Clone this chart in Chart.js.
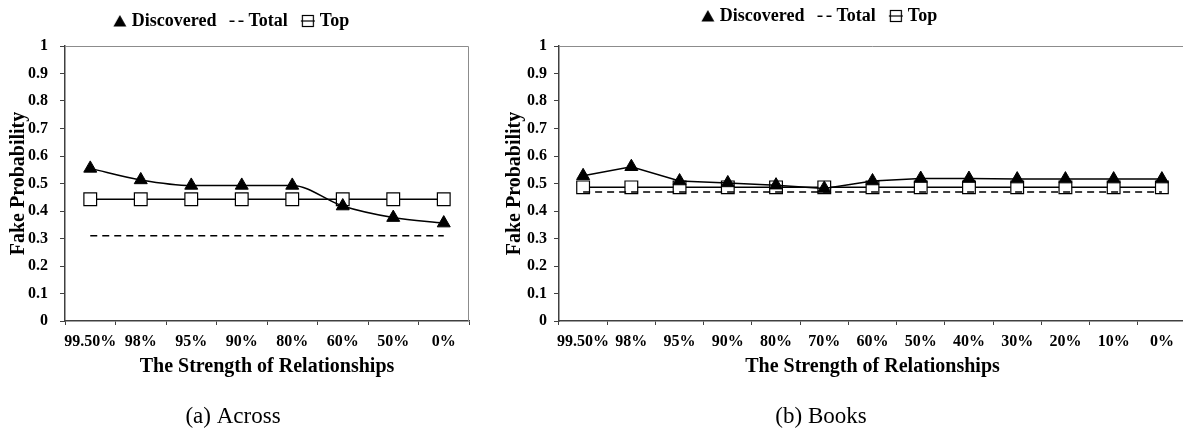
<!DOCTYPE html>
<html>
<head>
<meta charset="utf-8">
<title>Fake Probability vs. Strength of Relationships</title>
<script src="https://cdn.jsdelivr.net/npm/chart.js"></script>
<style>
  body { margin: 0; width: 1183px; height: 431px; overflow: hidden; background: #fff; position: relative; }
  .panel { position: absolute; top: 0; }
  #across-panel { left: -3px; }
  #books-panel { left: 456px; }
</style>
</head>
<body>
<div class="panel" id="across-panel"><canvas id="acrossChart" width="473" height="431"></canvas></div>
<div class="panel" id="books-panel"><canvas id="booksChart" width="731" height="431"></canvas></div>
<script>
// --- Data ---
const acrossLabels = ['99.50%', '98%', '95%', '90%', '80%', '60%', '50%', '0%'];
const acrossDiscovered = [0.555, 0.513, 0.493, 0.493, 0.493, 0.418, 0.376, 0.356];
const acrossTotal = [0.31, 0.31, 0.31, 0.31, 0.31, 0.31, 0.31, 0.31];
const acrossTop = [0.443, 0.443, 0.443, 0.443, 0.443, 0.443, 0.443, 0.443];

const booksLabels = ['99.50%', '98%', '95%', '90%', '80%', '70%', '60%', '50%', '40%', '30%', '20%', '10%', '0%'];
const booksDiscovered = [0.528, 0.561, 0.509, 0.502, 0.494, 0.482, 0.509, 0.518, 0.518, 0.516, 0.516, 0.516, 0.516];
const booksTotal = [0.469, 0.469, 0.469, 0.469, 0.469, 0.469, 0.469, 0.469, 0.469, 0.469, 0.469, 0.469, 0.469];
const booksTop = [0.486, 0.486, 0.486, 0.486, 0.486, 0.486, 0.486, 0.486, 0.486, 0.486, 0.486, 0.486, 0.486];

const yTickLabels = ['0', '0.1', '0.2', '0.3', '0.4', '0.5', '0.6', '0.7', '0.8', '0.9', '1'];

// --- Styles ---
const SERIF = '"Liberation Serif", "Times New Roman", serif';
const AXIS = '#404040';
const FRAME = '#8c8c8c';

// Small canvases used as legend symbols
function makeIcon(kind) {
    const c = document.createElement('canvas');
    c.width = 16;
    c.height = 14;
    const g = c.getContext('2d');
    g.fillStyle = '#000';
    g.strokeStyle = '#000';
    g.lineWidth = 1.2;
    if (kind === 'triangle') {
        g.beginPath();
        g.moveTo(8, 1);
        g.lineTo(14.5, 12.5);
        g.lineTo(1.5, 12.5);
        g.closePath();
        g.fill();
    } else if (kind === 'dash') {
        g.fillRect(1, 6.5, 5, 1.5);
        g.fillRect(10, 6.5, 5, 1.5);
    } else {
        g.strokeRect(2.5, 1.5, 11, 11);
        g.beginPath();
        g.moveTo(1, 7);
        g.lineTo(15, 7);
        g.stroke();
    }
    return c;
}

const legendIcons = {
    Discovered: makeIcon('triangle'),
    Total: makeIcon('dash'),
    Top: makeIcon('square')
};

// Fixed legend height so the plot top lands where we want it
const legendHeight = h => ({
    id: 'legendHeight',
    beforeInit(chart) {
        const fit = chart.legend.fit;
        chart.legend.fit = function () {
            fit.call(this);
            this.height = h;
        };
    }
});

// Thin grey border on the top and right of the plot area
const plotFrame = {
    id: 'plotFrame',
    beforeDatasetsDraw(chart) {
        const { ctx, chartArea: a } = chart;
        ctx.save();
        ctx.strokeStyle = FRAME;
        ctx.lineWidth = 1;
        ctx.beginPath();
        ctx.moveTo(a.left, a.top + 0.5);
        ctx.lineTo(a.right - 0.5, a.top + 0.5);
        ctx.lineTo(a.right - 0.5, a.bottom);
        ctx.stroke();
        ctx.restore();
    }
};

function buildChart(id, labels, discovered, total, top, geo) {
    return new Chart(document.getElementById(id), {
        type: 'line',
        data: {
            labels: labels,
            datasets: [
                {
                    label: 'Discovered',
                    data: discovered,
                    borderColor: '#000',
                    borderWidth: 1.5,
                    cubicInterpolationMode: geo.smooth ? 'monotone' : 'default',
                    tension: 0,
                    pointStyle: 'triangle',
                    pointRadius: 7.5,
                    pointBackgroundColor: '#000',
                    pointBorderColor: '#000',
                    pointBorderWidth: 1
                },
                {
                    label: 'Total',
                    data: total,
                    borderColor: '#000',
                    borderWidth: 1.5,
                    borderDash: [7, 5],
                    pointRadius: 0
                },
                {
                    label: 'Top',
                    data: top,
                    borderColor: '#000',
                    borderWidth: 1.5,
                    pointStyle: 'rect',
                    pointRadius: 9,
                    pointBackgroundColor: '#fff',
                    pointBorderColor: '#000',
                    pointBorderWidth: 1.2
                }
            ]
        },
        options: {
            responsive: false,
            animation: false,
            events: [],
            layout: {
                autoPadding: false,
                padding: { top: geo.padTop, left: 0, right: geo.padRight, bottom: 0 }
            },
            scales: {
                x: {
                    offset: true,
                    grid: { display: true, offset: true, drawOnChartArea: false, tickLength: 4, color: AXIS, tickColor: AXIS },
                    border: { display: true, color: AXIS, width: 1.5 },
                    ticks: {
                        autoSkip: false, maxRotation: 0, minRotation: 0, padding: 7, color: '#000',
                        font: { family: SERIF, size: 16, weight: 'bold' }
                    },
                    title: {
                        display: true, text: 'The Strength of Relationships', color: '#000',
                        font: { family: SERIF, size: 20, weight: 'bold' },
                        padding: { top: 0, bottom: 15 }
                    },
                    afterFit: s => {
                        s.height = geo.xAxisHeight;
                        // the end labels sit inside the offset, no extra side room needed
                        s.paddingLeft = 0;
                        s.paddingRight = 0;
                    }
                },
                y: {
                    min: 0,
                    max: 1,
                    grid: { display: true, drawOnChartArea: false, tickLength: 5, color: AXIS, tickColor: AXIS },
                    border: { display: true, color: AXIS, width: 1.5 },
                    ticks: {
                        stepSize: 0.1, autoSkip: false, padding: geo.yTickPad, color: '#000',
                        font: { family: SERIF, size: 16, weight: 'bold' },
                        callback: (value, index) => yTickLabels[index]
                    },
                    title: {
                        display: true, text: 'Fake Probability', color: '#000',
                        font: { family: SERIF, size: 20, weight: 'bold' },
                        padding: { top: geo.yTitlePad, bottom: 0 }
                    },
                    afterFit: s => { s.width = geo.plotLeft; }
                }
            },
            plugins: {
                legend: {
                    display: true,
                    position: 'top',
                    labels: {
                        usePointStyle: true,
                        pointStyleWidth: 6,
                        padding: 17,
                        color: '#000',
                        font: { family: SERIF, size: 18, weight: 'bold' },
                        generateLabels: chart => chart.data.datasets.map((ds, i) => ({
                            text: ds.label,
                            pointStyle: legendIcons[ds.label],
                            datasetIndex: i,
                            hidden: false,
                            fillStyle: '#000',
                            strokeStyle: '#000',
                            lineWidth: 0
                        }))
                    }
                },
                title: {
                    display: true,
                    position: 'bottom',
                    text: geo.caption,
                    color: '#000',
                    font: { family: SERIF, size: 23, weight: 'normal' },
                    padding: { top: 10, bottom: 0 }
                },
                tooltip: { enabled: false }
            }
        },
        plugins: [legendHeight(geo.legendHeight), plotFrame]
    });
}

buildChart('acrossChart', acrossLabels, acrossDiscovered, acrossTotal, acrossTop, {
    caption: '(a) Across',
    smooth: true,
    padTop: -5,
    legendHeight: 51,
    padRight: 1,
    plotLeft: 68,
    yTickPad: 12,
    yTitlePad: 9.5,
    xAxisHeight: 72.4
});

buildChart('booksChart', booksLabels, booksDiscovered, booksTotal, booksTop, {
    caption: '(b) Books',
    smooth: false,
    padTop: -10,
    legendHeight: 56,
    padRight: 1,
    plotLeft: 103,
    yTickPad: 7,
    yTitlePad: 47,
    xAxisHeight: 72.4
});
</script>
</body>
</html>
